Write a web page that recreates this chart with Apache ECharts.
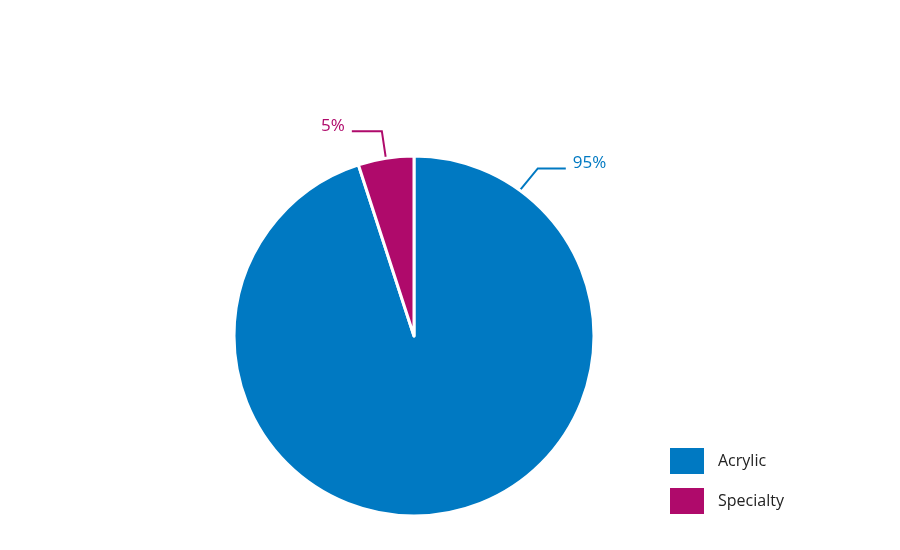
<!DOCTYPE html>
<html><head><meta charset="utf-8">
<script src="https://cdn.jsdelivr.net/npm/echarts@6/dist/echarts.min.js"></script>
<style>html,body{margin:0;padding:0;background:#fff}#c{width:900px;height:550px}</style>
</head><body><div id="c"></div>
<script>
const categories = ['Acrylic', 'Specialty'];
const values = [95, 5];
const colors = ['#0079C2', '#AF0A6B'];
const labelTexts = ['95%', '5%'];

const cx = 414, cy = 336, R = 180;
// anchor angle (deg, clockwise from 12 o'clock) and leader direction for each label
const anchors = [
  {ang: 36, d1: [18, -22], d2: 28, align: 'left'},
  {ang: -9, d1: [-4, -27], d2: -30, align: 'right'}
];

const chart = echarts.init(document.getElementById('c'));
chart.setOption({
  backgroundColor: '#fff',
  animation: false,
  legend: {
    orient: 'vertical', left: 668, top: 446, padding: 0,
    itemWidth: 36, itemHeight: 28, itemGap: 10,
    icon: 'rect',
    textStyle: {fontFamily: 'Open Sans', fontSize: 16, color: '#222', padding: [0, 0, 0, 8]},
    data: categories
  },
  series: [{
    type: 'pie',
    center: [cx, cy], radius: R,
    startAngle: 90, clockwise: true,
    itemStyle: {borderColor: '#fff', borderWidth: 3},
    label: {show: true, fontFamily: 'Open Sans', fontSize: 17,
      formatter: p => labelTexts[p.dataIndex]},
    labelLine: {show: true, lineStyle: {width: 2}},
    emphasis: {disabled: true},
    labelLayout: function (p) {
      const a = anchors[p.dataIndex];
      const t = a.ang * Math.PI / 180;
      const p0 = [cx + R * Math.sin(t), cy - R * Math.cos(t)];
      const p1 = [p0[0] + a.d1[0], p0[1] + a.d1[1]];
      const p2 = [p1[0] + a.d2, p1[1]];
      return {
        x: p2[0] + (a.align === 'left' ? 7 : -7),
        y: p2[1] - 5,
        align: a.align, verticalAlign: 'middle',
        labelLinePoints: [p0, p1, p2]
      };
    },
    data: categories.map((n, i) => ({
      name: n, value: values[i],
      itemStyle: {color: colors[i]},
      label: {color: colors[i]},
      labelLine: {lineStyle: {color: colors[i]}}
    }))
  }]
});
</script></body></html>
